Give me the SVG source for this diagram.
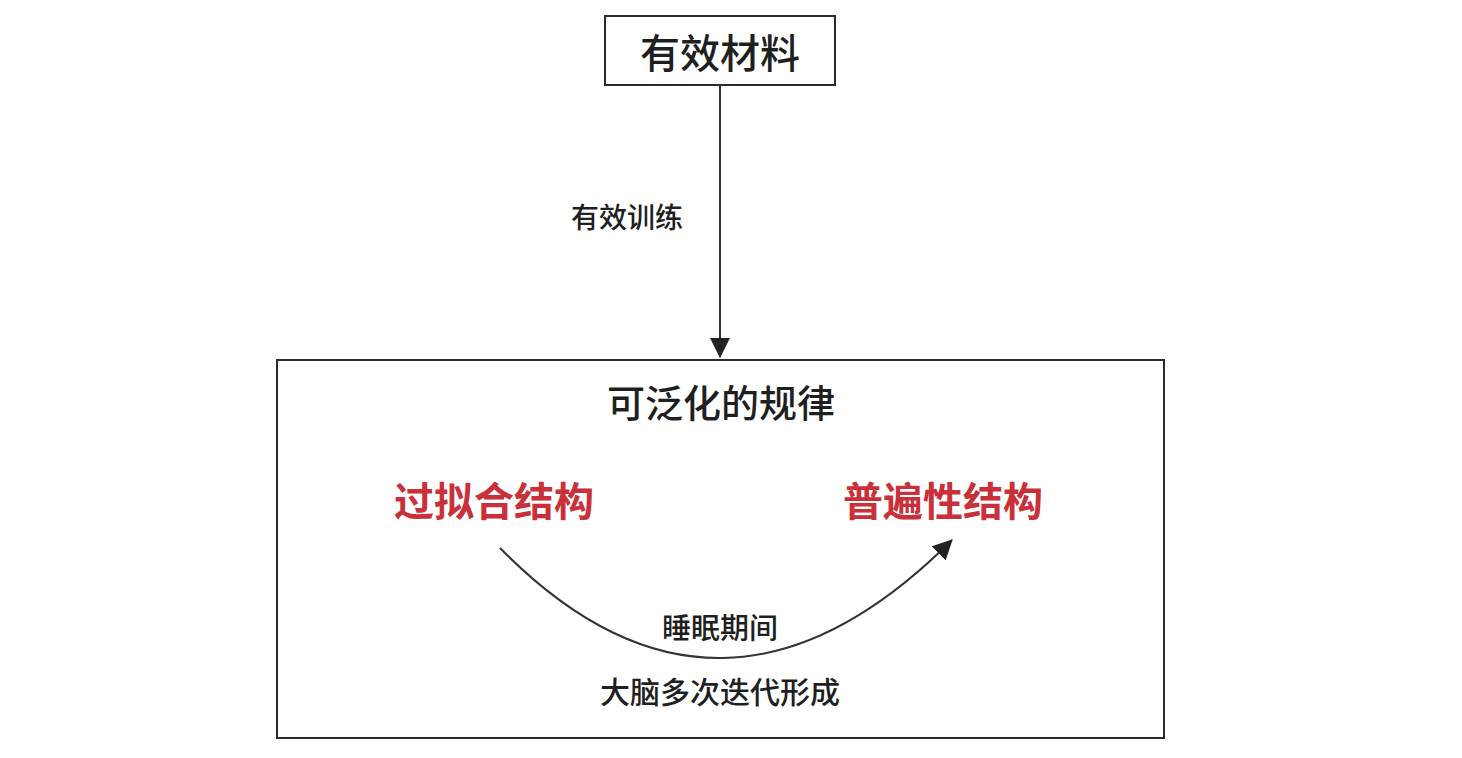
<svg xmlns="http://www.w3.org/2000/svg" width="1462" height="758" viewBox="0 0 1462 758">
  <style>
    .box { fill: none; stroke: #2b2b2b; stroke-width: 2; }
    .txt { font-family: "Noto Sans CJK SC", "Noto Sans", sans-serif; fill: #1f1f1f; text-anchor: middle; dominant-baseline: central; }
    .red { fill: #c9303a; font-weight: 700; }
    .link { fill: none; stroke: #333333; stroke-width: 2; }
  </style>
  <defs>
    <marker id="arrowLg" viewBox="0 0 10 10" refX="9.5" refY="5" markerWidth="20" markerHeight="20" markerUnits="userSpaceOnUse" orient="auto">
      <path d="M0,0 L10,5 L0,10 Z" fill="#222222"/>
    </marker>
  </defs>
  <rect width="1462" height="758" fill="#ffffff"/>

  <g id="node-material">
    <rect class="box" x="605" y="16" width="230" height="69"/>
    <text class="txt" x="720" y="51" font-size="40" font-weight="500">有效材料</text>
  </g>

  <g id="label-training">
    <text class="txt" x="627" y="216" font-size="28" font-weight="500">有效训练</text>
  </g>

  <g id="node-pattern">
    <rect class="box" x="277" y="360" width="887" height="378"/>
    <text class="txt" x="721" y="400" font-size="38" font-weight="500">可泛化的规律</text>
  </g>

  <g id="node-overfit">
    <text class="txt red" x="494" y="499" font-size="40">过拟合结构</text>
  </g>

  <g id="node-general">
    <text class="txt red" x="943" y="499" font-size="40">普遍性结构</text>
  </g>

  <g id="label-sleep">
    <text class="txt" x="720" y="626" font-size="29" font-weight="500">睡眠期间</text>
    <text class="txt" x="720" y="690" font-size="30" font-weight="500">大脑多次迭代形成</text>
  </g>

  <!-- connectors -->
  <g id="connectors">
    <line class="link" x1="720" y1="85" x2="720" y2="357" marker-end="url(#arrowLg)"/>
    <path class="link" d="M500,548 Q720,772 952,540" marker-end="url(#arrowLg)"/>
  </g>
</svg>
